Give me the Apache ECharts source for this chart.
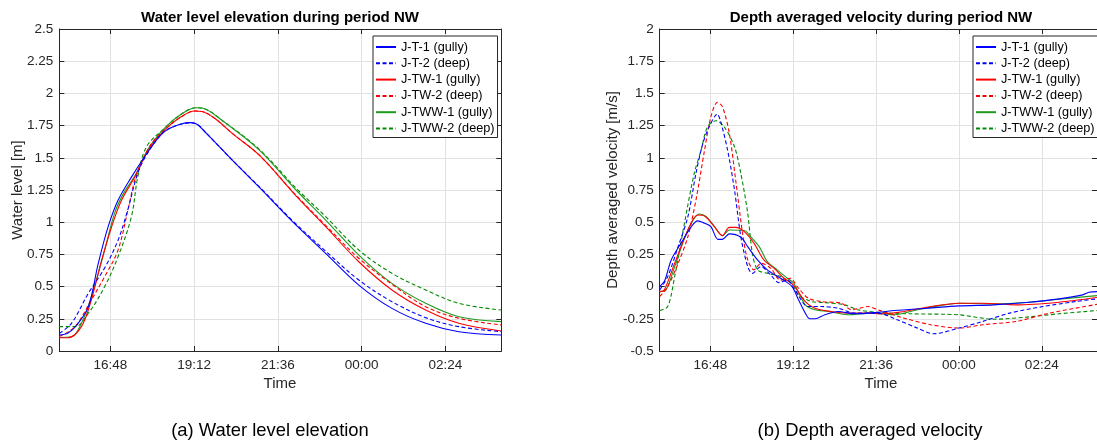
<!DOCTYPE html>
<html>
<head>
<meta charset="utf-8">
<script src="https://cdn.jsdelivr.net/npm/echarts@6/dist/echarts.min.js"></script>
<style>
html,body{margin:0;padding:0;background:#fff;}
#c{width:1097px;height:443px;}
</style>
</head>
<body>
<div id="c"></div>
<script>
// Time in minutes since midnight of the first day (values > 1440 are after midnight)
const seriesNames = ['J-T-1 (gully)', 'J-T-2 (deep)', 'J-TW-1 (gully)', 'J-TW-2 (deep)', 'J-TWW-1 (gully)', 'J-TWW-2 (deep)'];
const timeTicks = [1008, 1152, 1296, 1440, 1584]; // 16:48, 19:12, 21:36, 00:00, 02:24
const timeMin = 920, timeMax = 1680;

// (a) Water level [m]
const wlJT1 = [[920,0.124],[935,0.14],[950,0.2],[970,0.344],[987,0.68],[1004,0.965],[1021,1.17],[1044,1.35],[1067,1.51],[1093,1.67],[1110,1.73],[1144,1.773],[1155,1.765],[1173,1.69],[1220,1.47],[1264,1.27],[1321,1.004],[1378,0.758],[1435,0.512],[1492,0.331],[1550,0.215],[1607,0.15],[1680,0.124]];
const wlJT2 = [[920,0.137],[941,0.215],[970,0.448],[998,0.645],[1021,0.86],[1038,1.1],[1053,1.353],[1067,1.5],[1093,1.67],[1110,1.73],[1144,1.77],[1155,1.765],[1173,1.69],[1220,1.47],[1264,1.275],[1321,1.012],[1378,0.775],[1435,0.551],[1492,0.383],[1550,0.259],[1607,0.189],[1680,0.15]];
const wlJTW1 = [[920,0.103],[935,0.103],[958,0.189],[975,0.396],[993,0.707],[1010,0.965],[1027,1.17],[1050,1.353],[1073,1.56],[1101,1.716],[1130,1.82],[1153,1.863],[1165,1.86],[1187,1.807],[1220,1.68],[1264,1.52],[1327,1.205],[1378,0.965],[1435,0.693],[1492,0.474],[1550,0.318],[1607,0.215],[1680,0.155]];
const wlJTW2 = [[920,0.113],[947,0.189],[975,0.396],[998,0.577],[1021,0.784],[1038,1.095],[1050,1.328],[1065,1.5],[1080,1.62],[1101,1.716],[1130,1.82],[1153,1.863],[1165,1.86],[1187,1.807],[1220,1.68],[1264,1.52],[1327,1.21],[1378,0.975],[1435,0.72],[1492,0.518],[1550,0.344],[1607,0.254],[1680,0.202]];
const wlJTWW1 = [[920,0.105],[941,0.11],[958,0.215],[975,0.42],[998,0.784],[1015,1.069],[1030,1.22],[1050,1.36],[1073,1.57],[1101,1.73],[1130,1.84],[1155,1.889],[1167,1.885],[1200,1.79],[1264,1.56],[1327,1.25],[1378,1.017],[1435,0.745],[1492,0.525],[1550,0.37],[1607,0.266],[1680,0.228]];
const wlJTWW2 = [[920,0.189],[947,0.189],[970,0.293],[998,0.5],[1021,0.732],[1044,1.043],[1055,1.353],[1070,1.586],[1101,1.73],[1130,1.84],[1155,1.889],[1167,1.885],[1200,1.79],[1264,1.565],[1327,1.265],[1378,1.043],[1435,0.784],[1492,0.603],[1550,0.474],[1607,0.37],[1680,0.318]];

// (b) Depth averaged velocity [m/s]
const vJT1 = [[920,0.0],[929,0.05],[940,0.207],[957,0.336],[975,0.466],[986,0.51],[998,0.492],[1009,0.466],[1021,0.367],[1029,0.367],[1041,0.409],[1061,0.383],[1073,0.31],[1090,0.207],[1107,0.13],[1130,0.065],[1150,0.0],[1161,-0.10],[1173,-0.206],[1181,-0.25],[1190,-0.25],[1207,-0.219],[1230,-0.193],[1259,-0.211],[1299,-0.2],[1328,-0.186],[1385,-0.168],[1440,-0.15],[1500,-0.142],[1557,-0.124],[1614,-0.095],[1655,-0.064],[1666,-0.044],[1680,-0.039]];
const vJT2 = [[920,-0.026],[934,0.078],[952,0.31],[969,0.543],[983,0.879],[995,1.112],[1006,1.241],[1020,1.34],[1026,1.28],[1038,1.06],[1050,0.75],[1061,0.388],[1073,0.155],[1081,0.103],[1096,0.155],[1113,0.09],[1127,0.031],[1142,0.05],[1155,-0.026],[1178,-0.155],[1201,-0.155],[1230,-0.168],[1259,-0.206],[1299,-0.206],[1333,-0.258],[1368,-0.322],[1396,-0.366],[1440,-0.322],[1482,-0.27],[1528,-0.206],[1586,-0.155],[1643,-0.116],[1680,-0.095]];
const vJTW1 = [[920,-0.039],[928,-0.026],[946,0.181],[969,0.44],[986,0.556],[998,0.548],[1015,0.466],[1029,0.396],[1041,0.46],[1052,0.46],[1067,0.427],[1084,0.336],[1101,0.207],[1119,0.142],[1136,0.065],[1152,0.013],[1173,-0.116],[1190,-0.168],[1218,-0.193],[1247,-0.206],[1276,-0.206],[1310,-0.211],[1345,-0.193],[1391,-0.155],[1440,-0.129],[1482,-0.129],[1540,-0.142],[1614,-0.121],[1680,-0.085]];
const vJTW2 = [[920,-0.077],[934,0.0],[952,0.181],[969,0.388],[983,0.672],[998,1.06],[1009,1.319],[1020,1.43],[1029,1.397],[1041,1.19],[1052,0.828],[1064,0.414],[1073,0.207],[1084,0.13],[1096,0.181],[1113,0.142],[1130,0.05],[1147,0.065],[1159,0.0],[1178,-0.09],[1201,-0.116],[1236,-0.129],[1253,-0.18],[1282,-0.155],[1299,-0.18],[1345,-0.245],[1391,-0.296],[1440,-0.322],[1482,-0.296],[1540,-0.27],[1597,-0.206],[1680,-0.138]];
const vJTWW1 = [[920,-0.039],[931,-0.026],[946,0.155],[969,0.44],[989,0.564],[1001,0.543],[1015,0.466],[1029,0.396],[1041,0.44],[1067,0.435],[1078,0.388],[1093,0.31],[1107,0.194],[1124,0.13],[1142,0.065],[1153,0.026],[1173,-0.142],[1190,-0.18],[1213,-0.193],[1247,-0.219],[1287,-0.206],[1328,-0.219],[1368,-0.18],[1414,-0.142],[1440,-0.129],[1500,-0.134],[1557,-0.124],[1614,-0.098],[1680,-0.07]];
const vJTWW2 = [[920,-0.186],[934,-0.155],[946,0.078],[963,0.491],[980,0.879],[992,1.06],[1003,1.241],[1018,1.288],[1032,1.241],[1050,1.086],[1061,0.879],[1073,0.569],[1081,0.259],[1090,0.13],[1107,0.103],[1130,0.078],[1152,0.013],[1161,-0.064],[1184,-0.116],[1207,-0.124],[1242,-0.142],[1264,-0.18],[1299,-0.2],[1356,-0.211],[1440,-0.219],[1500,-0.253],[1557,-0.237],[1614,-0.211],[1680,-0.186]];

const FONT = '"Liberation Sans", Arial, sans-serif';
const AX = '#262626';
const GRIDC = '#e1e1e1';
const colors = ['#0000ff', '#0000ff', '#ff0000', '#ff0000', '#1f9a1f', '#008a00'];
const dashed = [false, true, false, true, false, true];

function fmtTime(v) {
  const m = ((Math.round(v) % 1440) + 1440) % 1440;
  const h = Math.floor(m / 60), mm = m % 60;
  return String(h).padStart(2, '0') + ':' + String(mm).padStart(2, '0');
}

function xAxes(gi) {
  return [
    { gridIndex: gi, type: 'value', min: timeMin, max: timeMax, position: 'bottom',
      axisLine: { show: true, onZero: false, lineStyle: { color: AX, width: 1 } },
      axisTick: { show: true, inside: true, length: 5, customValues: timeTicks, lineStyle: { color: AX } },
      axisLabel: { customValues: timeTicks, formatter: fmtTime, fontSize: 13.5, color: AX, fontFamily: FONT, margin: 7 },
      splitLine: { show: true, lineStyle: { color: GRIDC, width: 1 } } },
    { gridIndex: gi, type: 'value', min: timeMin, max: timeMax, position: 'top',
      axisLine: { show: true, onZero: false, lineStyle: { color: AX, width: 1 } },
      axisTick: { show: true, inside: true, length: 5, customValues: timeTicks, lineStyle: { color: AX } },
      axisLabel: { show: false }, splitLine: { show: false } }
  ];
}
function yAxes(gi, mn, mx) {
  return [
    { gridIndex: gi, type: 'value', min: mn, max: mx, interval: 0.25, position: 'left',
      axisLine: { show: true, onZero: false, lineStyle: { color: AX, width: 1 } },
      axisTick: { show: true, inside: true, length: 5, lineStyle: { color: AX } },
      axisLabel: { fontSize: 13.5, color: AX, fontFamily: FONT, margin: 6 },
      splitLine: { show: true, lineStyle: { color: GRIDC, width: 1 } } },
    { gridIndex: gi, type: 'value', min: mn, max: mx, interval: 0.25, position: 'right',
      axisLine: { show: true, onZero: false, lineStyle: { color: AX, width: 1 } },
      axisTick: { show: true, inside: true, length: 5, lineStyle: { color: AX } },
      axisLabel: { show: false }, splitLine: { show: false } }
  ];
}

const wlData = [wlJT1, wlJT2, wlJTW1, wlJTW2, wlJTWW1, wlJTWW2];
const vData = [vJT1, vJT2, vJTW1, vJTW2, vJTWW1, vJTWW2];

function mkSeries(dataArr, xi, yi, smooth) {
  return dataArr.map((d, i) => ({
    name: seriesNames[i], type: 'line', xAxisIndex: xi, yAxisIndex: yi,
    data: d, showSymbol: false, symbol: 'none', smooth: smooth, clip: true,
    lineStyle: { color: colors[i], width: 1.1, type: dashed[i] ? [4, 2.5] : 'solid' },
    itemStyle: { color: colors[i] },
    z: 10 - i
  }));
}

function legendAt(left) {
  return {
    data: seriesNames, orient: 'vertical', left: left, top: 36,
    backgroundColor: '#ffffff', borderColor: AX, borderWidth: 1, borderRadius: 0,
    padding: [4, 3, 2, 2], itemGap: 2.3, itemWidth: 20, itemHeight: 10,
    itemStyle: { opacity: 0, borderWidth: 0 },
    textStyle: { fontSize: 12.7, color: '#000', fontFamily: FONT, lineHeight: 14 },
    selectedMode: false
  };
}

function txt(x, y, text, size, opts) {
  opts = opts || {};
  return {
    type: 'text', x: x, y: y, rotation: opts.rot || 0, silent: true, z: 100,
    style: { text: text, fill: opts.color || '#000', font: (opts.bold ? 'bold ' : '') + size + 'px ' + FONT,
             align: 'center', verticalAlign: 'middle' }
  };
}

const chart = echarts.init(document.getElementById('c'), null, { renderer: 'canvas' });
chart.setOption({
  animation: false,
  backgroundColor: '#ffffff',
  grid: [
    { left: 59.3, top: 29, width: 442, height: 322, containLabel: false },
    { left: 659.7, top: 29, width: 442, height: 322, containLabel: false }
  ],
  xAxis: [].concat(xAxes(0), xAxes(1)),
  yAxis: [].concat(yAxes(0, 0, 2.5), yAxes(1, -0.5, 2)),
  legend: [legendAt(373), legendAt(973)],
  series: [].concat(mkSeries(wlData, 0, 0, 0.35), mkSeries(vData, 2, 2, 0.3)),
  graphic: [
    txt(280, 17.5, 'Water level elevation during period NW', 15, { bold: true }),
    txt(881, 17.5, 'Depth averaged velocity during period NW', 15, { bold: true }),
    txt(18, 190, 'Water level [m]', 15, { rot: Math.PI / 2, color: AX }),
    txt(613, 190, 'Depth averaged velocity [m/s]', 15, { rot: Math.PI / 2, color: AX }),
    txt(280, 384, 'Time', 15, { color: AX }),
    txt(881, 384, 'Time', 15, { color: AX }),
    txt(270, 431, '(a) Water level elevation', 18.4),
    txt(870, 431, '(b) Depth averaged velocity', 18.4)
  ]
});
</script>
</body>
</html>
